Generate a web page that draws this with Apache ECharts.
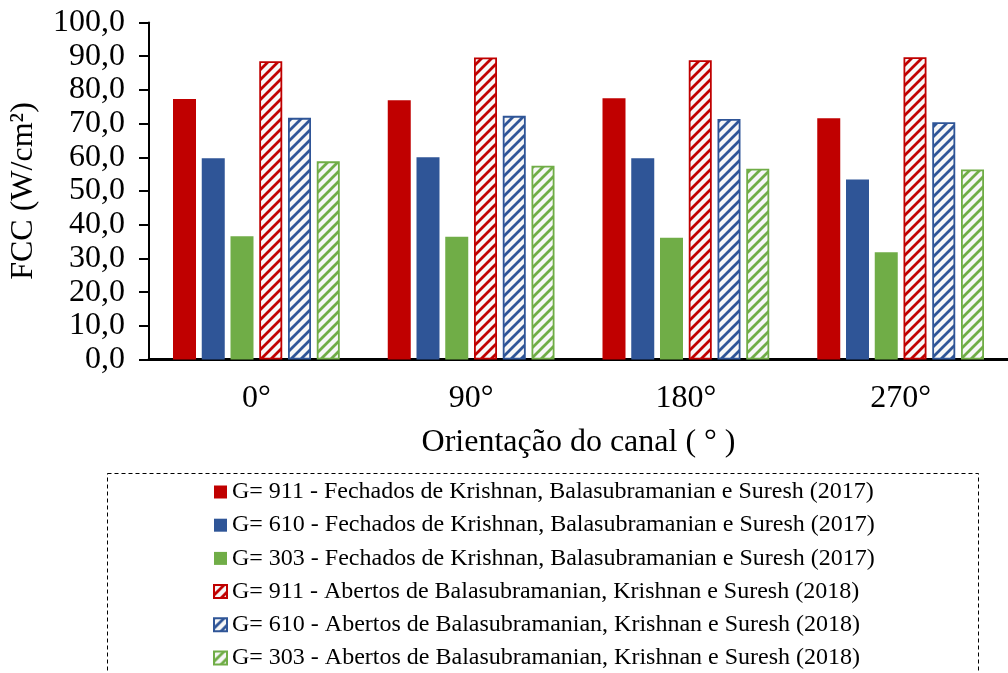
<!DOCTYPE html>
<html>
<head>
<meta charset="utf-8">
<script src="https://cdn.jsdelivr.net/npm/echarts@6/dist/echarts.min.js"></script>
<style>
  html, body { margin: 0; padding: 0; background: #fff; }
  #chart { width: 1008px; height: 673px; }
</style>
</head>
<body>
<div id="chart"></div>
<script>
// Channel orientations (x categories)
const categories = ['0°', '90°', '180°', '270°'];

// Critical heat flux (W/cm²) per orientation
const fechados911 = [77.3, 76.9, 77.5, 71.6];
const fechados610 = [59.7, 60.0, 59.7, 53.4];
const fechados303 = [36.6, 36.4, 36.1, 31.8];
const abertos911 = [88.5, 89.6, 88.8, 89.7];
const abertos610 = [71.7, 72.3, 71.4, 70.4];
const abertos303 = [58.8, 57.5, 56.6, 56.4];

const seriesNames = [
  'G= 911 - Fechados de Krishnan, Balasubramanian e Suresh (2017)',
  'G= 610 - Fechados de Krishnan, Balasubramanian e Suresh (2017)',
  'G= 303 - Fechados de Krishnan, Balasubramanian e Suresh (2017)',
  'G= 911 - Abertos de Balasubramanian, Krishnan e Suresh (2018)',
  'G= 610 - Abertos de Balasubramanian, Krishnan e Suresh (2018)',
  'G= 303 - Abertos de Balasubramanian, Krishnan e Suresh (2018)'
];

const RED = '#C00000', BLUE = '#2F5597', GREEN = '#70AD47';
const FONT = '"Liberation Serif", "Times New Roman", serif';

// Diagonal-stripe fill for the open-channel bars
function stripes(color) {
  const t = 10;
  const c = document.createElement('canvas');
  c.width = t; c.height = t;
  const g = c.getContext('2d');
  g.fillStyle = '#f7f7f7';
  g.fillRect(0, 0, t, t);
  g.strokeStyle = color;
  g.lineWidth = 2.8;
  g.beginPath();
  for (let k = -1; k <= 1; k++) {
    g.moveTo(k * t - 1, t + 1);
    g.lineTo(k * t + t + 1, -1);
  }
  g.stroke();
  return { image: c, repeat: 'repeat' };
}

function solid(name, data, color) {
  return {
    name, type: 'bar', data,
    barWidth: 23, barGap: '25%',
    itemStyle: { color }
  };
}
function hatched(name, data, color) {
  return {
    name, type: 'bar', data,
    barWidth: 23, barGap: '25%',
    itemStyle: { color: stripes(color), borderColor: color, borderWidth: 1.8 }
  };
}

const chart = echarts.init(document.getElementById('chart'), null, { renderer: 'canvas' });
chart.setOption({
  animation: false,
  backgroundColor: '#fff',
  textStyle: { fontFamily: FONT },
  grid: { left: 146.5, right: -8.5, top: 22.5, bottom: 313.5, containLabel: false },
  xAxis: {
    type: 'category',
    data: categories,
    name: 'Orientação do canal ( ° )',
    nameLocation: 'middle',
    nameGap: 67,
    nameTextStyle: { color: '#000', fontFamily: FONT, fontSize: 32 },
    axisLine: { lineStyle: { color: '#000', width: 3 } },
    axisTick: { show: false },
    axisLabel: { color: '#000', fontFamily: FONT, fontSize: 32, margin: 23 }
  },
  yAxis: {
    type: 'value',
    min: 0, max: 100, interval: 10,
    name: 'FCC (W/cm²)',
    nameLocation: 'middle',
    nameGap: 109,
    nameTextStyle: { color: '#000', fontFamily: FONT, fontSize: 32 },
    splitLine: { show: false },
    axisLine: { show: true, lineStyle: { color: '#000', width: 2 } },
    axisTick: { show: true, inside: false, length: 10, lineStyle: { color: '#000', width: 2 } },
    axisLabel: {
      color: '#000', fontFamily: FONT, fontSize: 32, margin: 24,
      formatter: v => v.toFixed(1).replace('.', ',')
    }
  },
  legend: {
    orient: 'vertical',
    left: 213, top: 480,
    height: 260,
    padding: 0,
    itemWidth: 13, itemHeight: 13,
    itemGap: 9.2,
    icon: 'rect',
    textStyle: { color: '#000', fontFamily: FONT, fontSize: 24, lineHeight: 24 },
    data: seriesNames
  },
  graphic: [
    {
      type: 'rect',
      shape: { x: 107.5, y: 473.5, width: 871, height: 260 },
      style: { fill: 'none', stroke: '#000', lineWidth: 1, lineDash: [4, 3] },
      silent: true
    }
  ],
  series: [
    solid(seriesNames[0], fechados911, RED),
    solid(seriesNames[1], fechados610, BLUE),
    solid(seriesNames[2], fechados303, GREEN),
    hatched(seriesNames[3], abertos911, RED),
    hatched(seriesNames[4], abertos610, BLUE),
    hatched(seriesNames[5], abertos303, GREEN)
  ]
});
</script>
</body>
</html>
